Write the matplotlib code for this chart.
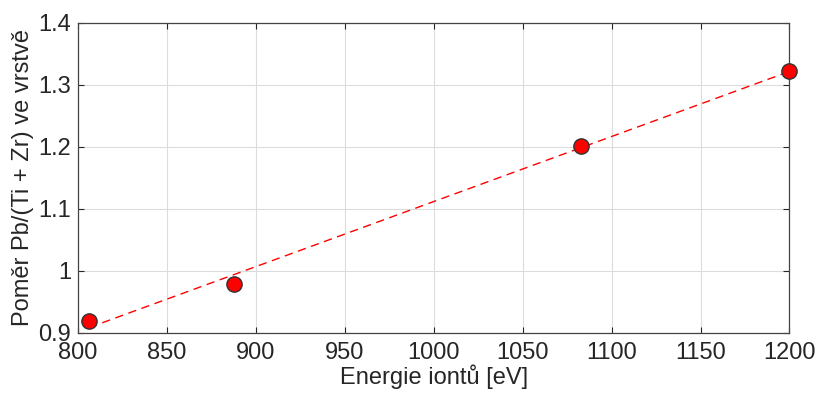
import numpy as np
import matplotlib
matplotlib.use("Agg")
import matplotlib.pyplot as plt

# ion energy vs. Pb/(Ti+Zr) ratio in the layer
energy = [806.3, 887.8, 1082.6, 1200.0]
ratio = [0.919, 0.979, 1.2015, 1.322]
xticks = [800, 850, 900, 950, 1000, 1050, 1100, 1150, 1200]
yticks = [0.9, 1.0, 1.1, 1.2, 1.3, 1.4]
ytick_labels = ["0.9", "1", "1.1", "1.2", "1.3", "1.4"]

plt.rcParams['font.family'] = ['Liberation Sans', 'DejaVu Sans']
dark = '#262626'

fig = plt.figure(figsize=(8.15, 3.97), dpi=100)
ax = fig.add_axes([0.0957, 0.162, 0.873, 0.781])

# linear fit over the measured range
k, q = np.polyfit(energy, ratio, 1)
xf = np.array([energy[0], energy[-1]])
ax.plot(xf, k * xf + q, '--', color='red', lw=1.0, dashes=(6, 4), zorder=2)
ax.plot(energy, ratio, 'o', ms=11, mfc='red', mec='#333333', mew=1.0,
        zorder=3, clip_on=False)

ax.set_xlim(800, 1200)
ax.set_ylim(0.9, 1.4)
ax.set_xticks(xticks)
ax.set_yticks(yticks)
ax.set_yticklabels(ytick_labels)
ax.grid(True, color='#dcdcdc', lw=0.8)
ax.set_axisbelow(True)
ax.tick_params(direction='in', top=True, right=True, length=4, width=0.8,
               colors=dark, labelsize=17)
ax.tick_params(axis='x', pad=7)
ax.tick_params(axis='y', pad=5)
for s in ax.spines.values():
    s.set_color('#444444')
    s.set_linewidth(0.9)

ax.set_xlabel('Energie iontů [eV]', fontsize=17, color=dark, labelpad=0)
ax.set_ylabel('Poměr Pb/(Ti + Zr) ve vrstvě', fontsize=17, color=dark, labelpad=3)

fig.savefig('out.png', dpi=100)
